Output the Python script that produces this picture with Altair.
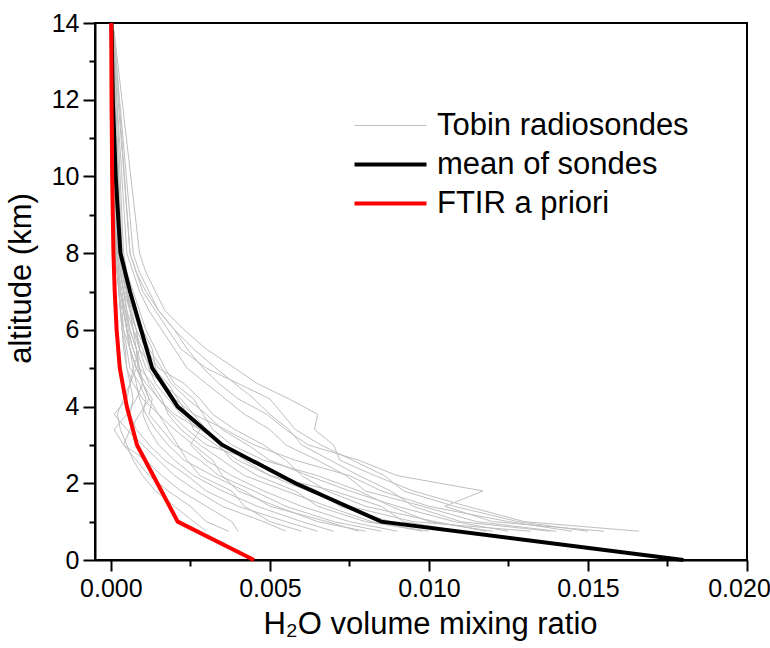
import altair as alt
import pandas as pd

sonde_alt = [0.75, 1.0, 1.4, 1.8, 2.2, 2.6, 3.0, 3.4, 3.8, 4.2, 4.6, 5.0, 5.5, 6.0, 6.5, 7.0, 7.5, 8.0, 13.8]

# H2O VMR of each sonde, in units of 1e-3
sondes = [
    [16.6, 13.0, 11.2, 9.5, 8.3, 7.2, 7.0, 6.4, 6.5, 5.6, 4.6, 3.9, 3.0, 2.3, 1.7, 1.4, 1.1, 0.9, 0.10],
    [15.5, 12.0, 10.5, 11.7, 9.0, 7.8, 6.2, 5.5, 4.9, 4.0, 3.4, 2.9, 2.4, 2.0, 1.5, 1.1, 0.8, 0.6, 0.10],
    [14.0, 11.5, 9.8, 8.0, 7.4, 6.5, 5.5, 5.0, 4.2, 3.6, 3.0, 2.4, 2.0, 1.6, 1.2, 0.9, 0.7, 0.5, 0.05],
    [12.5, 10.8, 9.0, 7.5, 6.2, 5.0, 4.3, 3.5, 3.0, 2.4, 1.9, 1.6, 1.2, 0.9, 0.7, 0.5, 0.35, 0.25, 0.05],
    [11.8, 10.2, 8.0, 6.8, 6.0, 5.5, 4.8, 3.9, 3.2, 2.8, 2.3, 1.5, 1.1, 0.8, 0.6, 0.5, 0.4, 0.3, 0.08],
    [13.2, 9.5, 7.5, 6.2, 5.0, 4.2, 3.6, 2.8, 2.2, 1.8, 1.4, 1.2, 1.0, 0.7, 0.5, 0.4, 0.3, 0.2, 0.05],
    [10.5, 8.8, 7.2, 6.5, 5.4, 4.5, 3.0, 2.4, 1.9, 1.5, 1.2, 1.0, 0.8, 0.6, 0.5, 0.4, 0.3, 0.2, 0.05],
    [9.8, 8.2, 6.8, 5.5, 4.2, 3.5, 2.8, 2.2, 1.8, 1.6, 1.3, 0.9, 0.7, 0.55, 0.45, 0.35, 0.25, 0.2, 0.04],
    [9.0, 7.5, 6.0, 4.8, 3.8, 3.0, 2.5, 2.8, 2.0, 1.5, 1.1, 0.8, 0.6, 0.5, 0.4, 0.3, 0.25, 0.2, 0.04],
    [8.5, 7.0, 5.5, 4.5, 3.4, 2.8, 2.0, 1.6, 1.2, 1.3, 1.0, 0.9, 0.8, 0.6, 0.45, 0.3, 0.2, 0.15, 0.03],
    [7.8, 6.8, 5.0, 4.2, 3.2, 2.3, 1.8, 1.4, 1.1, 0.9, 0.8, 0.7, 0.6, 0.5, 0.4, 0.3, 0.2, 0.15, 0.03],
    [7.0, 6.0, 4.6, 3.5, 2.6, 2.0, 1.5, 1.2, 1.0, 1.1, 0.9, 0.6, 0.5, 0.4, 0.35, 0.25, 0.2, 0.15, 0.03],
    [6.5, 5.5, 4.0, 3.0, 2.4, 1.7, 1.2, 0.8, 0.6, 0.7, 0.6, 0.5, 0.45, 0.35, 0.3, 0.25, 0.2, 0.15, 0.03],
    [5.5, 4.8, 3.5, 2.7, 2.0, 1.5, 1.0, 0.5, 0.1, 0.5, 0.6, 0.8, 0.6, 0.5, 0.4, 0.3, 0.25, 0.2, 0.04],
    [4.0, 3.8, 3.0, 2.2, 1.6, 1.1, 0.4, 0.1, 0.5, 0.8, 1.0, 0.9, 0.7, 0.5, 0.4, 0.3, 0.2, 0.15, 0.03],
    [3.7, 3.0, 2.5, 1.8, 1.2, 0.8, 0.4, 0.6, 0.9, 1.2, 1.0, 0.8, 0.6, 0.4, 0.3, 0.25, 0.2, 0.15, 0.03],
    [14.5, 12.5, 10.0, 8.5, 7.5, 5.8, 4.5, 3.6, 2.6, 2.0, 1.7, 1.4, 1.3, 1.0, 0.8, 0.6, 0.5, 0.35, 0.06],
    [11.0, 9.2, 8.5, 7.0, 5.0, 4.0, 3.3, 2.6, 2.4, 2.1, 1.8, 1.3, 0.9, 0.7, 0.6, 0.45, 0.35, 0.25, 0.05],
    [12.0, 10.0, 8.8, 7.8, 6.5, 4.8, 3.8, 3.2, 2.9, 2.6, 2.0, 1.7, 1.4, 1.1, 0.9, 0.7, 0.5, 0.4, 0.08],
    [8.0, 6.5, 5.2, 4.0, 3.5, 3.2, 2.6, 2.0, 1.5, 1.0, 0.7, 0.5, 0.4, 0.35, 0.3, 0.25, 0.2, 0.15, 0.03],
    [6.0, 5.0, 4.2, 3.8, 2.8, 2.4, 2.1, 1.8, 1.5, 1.2, 1.0, 0.85, 0.8, 0.7, 0.6, 0.5, 0.4, 0.3, 0.06],
    [10.0, 8.0, 6.5, 5.8, 4.6, 3.8, 3.4, 3.0, 2.6, 2.2, 1.6, 1.1, 0.9, 0.8, 0.65, 0.5, 0.4, 0.3, 0.06],
    [13.8, 11.0, 9.5, 8.8, 7.8, 6.9, 6.0, 5.6, 5.0, 4.5, 3.9, 3.3, 2.6, 2.0, 1.5, 1.2, 0.9, 0.7, 0.08],
    [15.0, 12.8, 10.8, 9.2, 8.6, 7.6, 6.6, 5.8, 5.4, 5.0, 4.0, 3.0, 2.2, 1.8, 1.4, 1.0, 0.8, 0.6, 0.06],
    [3.0, 2.6, 2.0, 1.4, 1.0, 0.7, 0.5, 0.3, 0.2, 0.4, 0.6, 0.7, 0.9, 0.8, 0.6, 0.4, 0.3, 0.2, 0.04],
]

mean_alt = [0, 1, 2, 3, 4, 5, 6, 7, 8, 10, 12, 14]
mean_vmr = [0.0180, 0.0085, 0.0058, 0.0035, 0.0021, 0.0013, 0.00095, 0.0006, 0.0003, 0.00015, 0.00006, 0.00002]

apriori_alt = [0, 1, 2, 3, 4, 5, 6, 7, 8, 10, 12, 14]
apriori_vmr = [0.0045, 0.0021, 0.00146, 0.00082, 0.0005, 0.00028, 0.00018, 0.00012, 0.00008, 0.00004, 0.00002, 0.00001]

series_names = ["Tobin radiosondes", "mean of sondes", "FTIR a priori"]
series_colors = ["#bfbfbf", "#000000", "#ff0000"]
series_widths = [1, 4, 4]

rows = []
for i, prof in enumerate(sondes):
    for a, v in zip(sonde_alt, prof):
        rows.append({"series": series_names[0], "id": f"s{i}", "alt": a, "vmr": v * 1e-3})
df_sondes = pd.DataFrame(rows)
df_mean = pd.DataFrame({"series": series_names[1], "id": "mean", "alt": mean_alt, "vmr": mean_vmr})
df_apr = pd.DataFrame({"series": series_names[2], "id": "apr", "alt": apriori_alt, "vmr": apriori_vmr})

FONT = "Liberation Sans"

color_scale = alt.Scale(domain=series_names, range=series_colors)
width_scale = alt.Scale(type="ordinal", domain=series_names, range=series_widths)
legend = alt.Legend(
    title=None, orient="none", legendX=256, legendY=87,
    symbolType="M-1,0H5", symbolSize=576, labelFontSize=31, labelFont=FONT,
    labelColor="black", labelLimit=500, rowPadding=7, padding=0,
    labelOffset=55,
)

x_major = "abs(datum.value*200 - round(datum.value*200)) < 0.01"
y_major = "datum.value % 2 == 0"

x_enc = alt.X(
    "vmr:Q",
    scale=alt.Scale(domain=[-0.0005, 0.020], nice=False, zero=False),
    axis=alt.Axis(
        title="H₂O volume mixing ratio",
        values=[i * 0.0025 for i in range(9)],
        format=".3f",
        labelExpr=f"({x_major}) ? datum.label : ''",
        tickSize={"condition": {"test": x_major, "value": 11}, "value": 6},
        labelOffset={"condition": {"test": "datum.value >= 0.0199", "value": -8}, "value": 0},
        labelFlush=False,
        labelPadding=5,
        titlePadding=8,
        titleX=335,
        grid=False,
    ),
)
y_enc = alt.Y(
    "alt:Q",
    scale=alt.Scale(domain=[0, 14], nice=False),
    axis=alt.Axis(
        title="altitude (km)",
        values=list(range(15)),
        labelExpr=f"({y_major}) ? datum.label : ''",
        tickSize={"condition": {"test": y_major, "value": 12}, "value": 6},
        labelPadding=4,
        titlePadding=14,
        titleY=255,
        grid=False,
    ),
)


def layer(df):
    return alt.Chart(df).mark_line().encode(
        x=x_enc,
        y=y_enc,
        color=alt.Color("series:N", scale=color_scale, legend=legend),
        strokeWidth=alt.StrokeWidth("series:N", scale=width_scale, legend=legend),
        detail="id:N",
        order="alt:Q",
    )


chart = alt.layer(layer(df_sondes), layer(df_mean), layer(df_apr)).properties(
    width=652, height=537,
    autosize=alt.AutoSizeParams(type="none"),
    padding={"left": 95, "top": 23, "right": 23, "bottom": 88},
    background="white",
).configure_view(
    stroke="black", strokeWidth=2,
).configure_axis(
    domainColor="black", domainWidth=2, tickColor="black", tickWidth=2,
    labelFont=FONT, labelFontSize=25, labelColor="black",
    titleFont=FONT, titleFontSize=31, titleColor="black", titleFontWeight="normal",
)

chart.save("out.html", embed_options={"renderer": "svg", "actions": False})
